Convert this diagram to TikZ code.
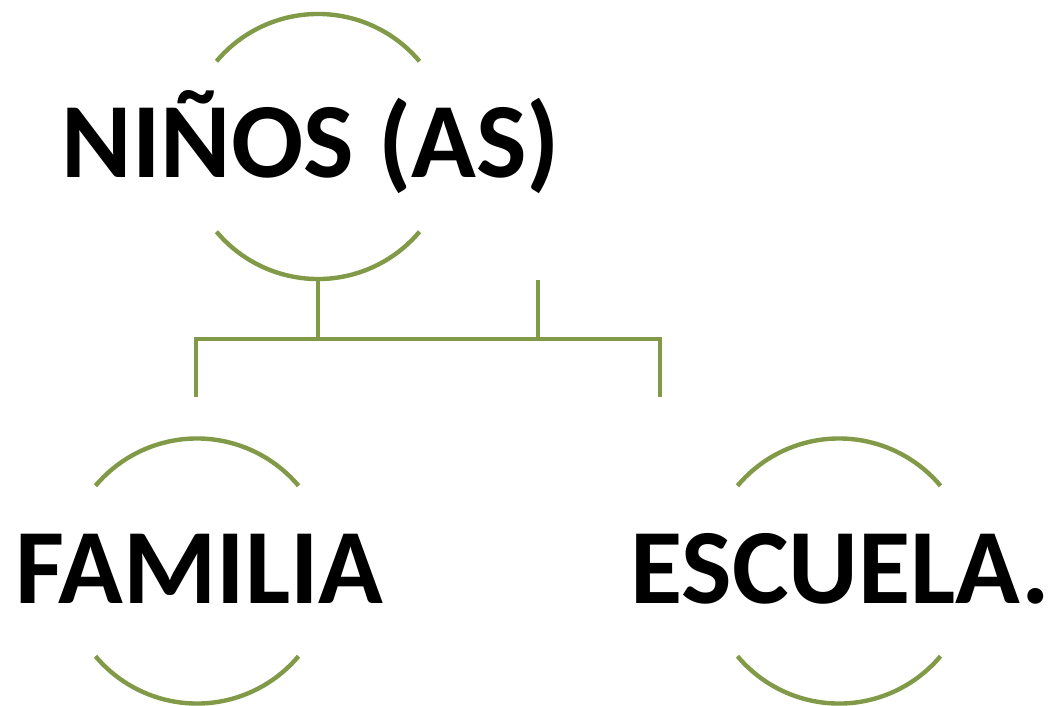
\documentclass[tikz,border=0pt]{standalone}
\usepackage{fontspec}
\setmainfont{Carlito}
\usepackage{tikz}

\definecolor{olivegreen}{RGB}{128,154,72}

\tikzset{
	ring/.style = {circle, minimum size=6.625cm, inner sep=0pt, outer sep=0pt, draw=none},
	arcline/.style = {draw=olivegreen, line width=0.11cm},
	link/.style = {draw=olivegreen, line width=0.11cm, line join=miter},
	title/.style = {anchor=base, inner sep=0pt, font=\fontsize{76}{90}\selectfont\bfseries}
}

\begin{document}
\begin{tikzpicture}[x=0.025cm, y=-0.025cm]
	\useasboundingbox (0,0) rectangle (1056,705);

	% rings
	\node[ring] (ninos) at (318,146.5) {};
	\node[ring] (familia) at (197,571) {};
	\node[ring] (escuela) at (839,571) {};

	% texts
	\node[title] (ninostxt) at (311,177) {NIÑOS (AS)};
	\node[title] (familiatxt) at (199.5,603) {FAMILIA};
	\node[title] (escuelatxt) at (840,603) {ESCUELA.};

	% arcs above and below each text
	\foreach \r in {ninos, familia, escuela} {
		\draw[arcline] (\r.40) arc[start angle=40, end angle=140, radius=3.3125cm];
		\draw[arcline] (\r.220) arc[start angle=220, end angle=320, radius=3.3125cm];
	}

	% connectors
	\coordinate (bus) at (318,339);
	\coordinate (famtop) at (196,397);
	\coordinate (esctop) at (660,397);
	\coordinate (stub) at (538,280);

	\draw[link] (ninos.south) -- (bus);
	\draw[link] (famtop) |- (bus) -- (esctop |- bus) -- (esctop);
	\draw[link] (stub) -- (stub |- bus);
\end{tikzpicture}
\end{document}
